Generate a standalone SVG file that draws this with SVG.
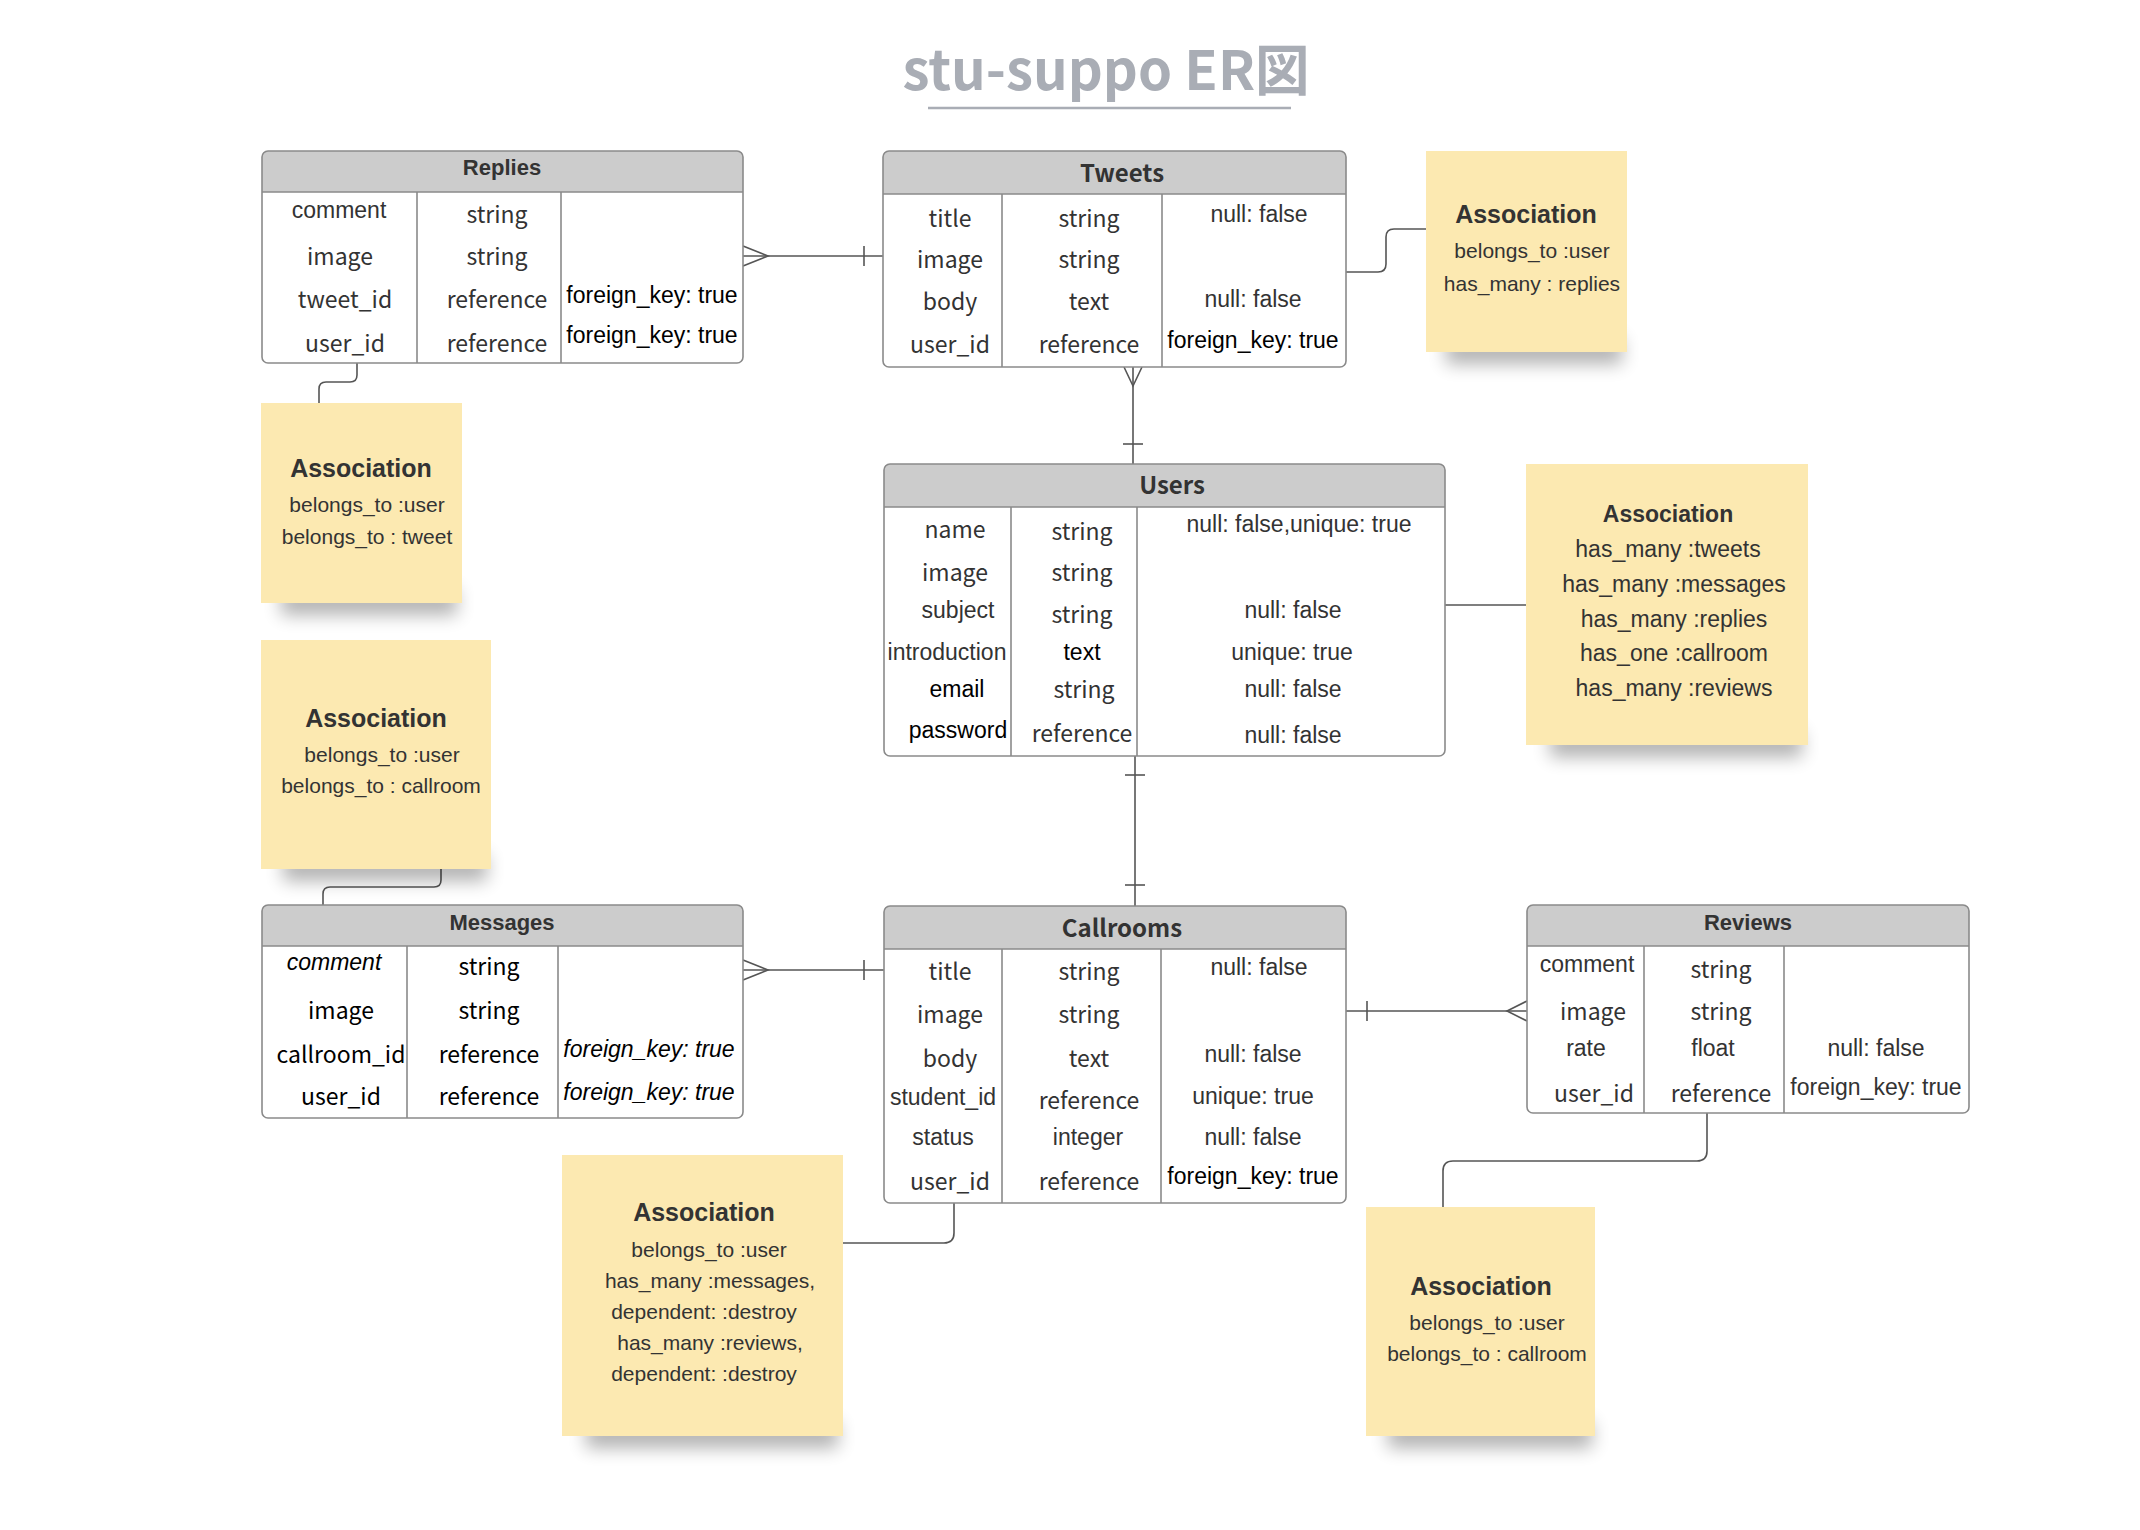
<svg xmlns="http://www.w3.org/2000/svg" width="2140" height="1530" viewBox="0 0 2140 1530">
<defs>
<filter id="blur" x="-30%" y="-150%" width="160%" height="400%"><feGaussianBlur stdDeviation="9"/></filter>
</defs>
<style>
.box{fill:#fff;stroke:none}
.brd{fill:none;stroke:#8a8a8a;stroke-width:1.6}
.hdr{fill:#cccccc}
.div{stroke:#8a8a8a;stroke-width:1.6;fill:none}
text{text-anchor:middle}
.s{font-family:"Noto Sans CJK JP","Noto Sans",sans-serif;font-size:23px;fill:#333}
.a{font-family:"Liberation Sans",Arial,sans-serif;font-size:23px;fill:#333}
.k{fill:#000}
.i{font-style:italic}
.hs{font-family:"Noto Sans CJK JP","Noto Sans",sans-serif;font-size:24px;font-weight:bold;fill:#333}
.ha{font-family:"Liberation Sans",Arial,sans-serif;font-size:22px;font-weight:bold;fill:#333}
.note{fill:#fce9b1}
.shd{fill:#000;opacity:.3;filter:url(#blur)}
.nt{font-family:"Liberation Sans",Arial,sans-serif;font-weight:bold;font-size:25px;fill:#333}
.nb{font-family:"Liberation Sans",Arial,sans-serif;font-size:21px;fill:#333}
.conn path{fill:none;stroke:#555;stroke-width:1.6}
</style>

<g id="title">
<text x="1106" y="90" style="font-family:'Noto Sans CJK JP','Noto Sans',sans-serif;font-size:54.5px;font-weight:bold;fill:#a9adb5">stu-suppo ER図</text>
<line x1="928" y1="108" x2="1291" y2="108" stroke="#a9adb5" stroke-width="2.5"/>
</g>

<g id="connectors" class="conn">
<path d="M743,256 H883"/>
<path d="M743,246 L768,256 L743,266"/>
<path d="M864,246 V266"/>
<path d="M1346,272 H1378 Q1386,272 1386,264 V237 Q1386,229 1394,229 H1426"/>
<path d="M357,363 V375 Q357,382 350,382 H326 Q319,382 319,389 V403"/>
<path d="M1133,367 V464"/>
<path d="M1124,367 L1133,386 L1142,367"/>
<path d="M1123,444 H1143"/>
<path d="M1445,605 H1526"/>
<path d="M1135,756 V906"/>
<path d="M1125,775 H1145"/>
<path d="M1125,885 H1145"/>
<path d="M441,869 V880 Q441,887 434,887 H330 Q323,887 323,894 V905"/>
<path d="M743,970 H884"/>
<path d="M743,960 L768,970 L743,980"/>
<path d="M864,960 V980"/>
<path d="M1346,1011 H1527"/>
<path d="M1367,1001 V1021"/>
<path d="M1527,1001 L1507,1011 L1527,1021"/>
<path d="M954,1203 V1233 Q954,1243 944,1243 H843"/>
<path d="M1707,1113 V1151 Q1707,1161 1697,1161 H1453 Q1443,1161 1443,1171 V1207"/>
</g>

<g id="replies">
<rect class="box" x="262" y="151" width="481" height="212" rx="6"/>
<path class="hdr" d="M262,192 V157 Q262,151 268,151 H737 Q743,151 743,157 V192 Z"/>
<path class="div" d="M262,192 H743 M417,192 V363 M561,192 V363"/>
<rect class="brd" x="262" y="151" width="481" height="212" rx="6"/>
<text class="ha" x="502" y="175">Replies</text>
<text class="a" x="339" y="218">comment</text>
<text class="s" x="340" y="265">image</text>
<text class="s" x="345" y="308">tweet_id</text>
<text class="s" x="345" y="352">user_id</text>
<text class="s" x="497" y="223">string</text>
<text class="s" x="497" y="265">string</text>
<text class="s" x="497" y="308">reference</text>
<text class="s" x="497" y="352">reference</text>
<text class="a k" x="652" y="303">foreign_key: true</text>
<text class="a k" x="652" y="343">foreign_key: true</text>
</g>

<g id="tweets">
<rect class="box" x="883" y="151" width="463" height="216" rx="6"/>
<path class="hdr" d="M883,194 V157 Q883,151 889,151 H1340 Q1346,151 1346,157 V194 Z"/>
<path class="div" d="M883,194 H1346 M1002,194 V367 M1162,194 V367"/>
<rect class="brd" x="883" y="151" width="463" height="216" rx="6"/>
<text class="hs" x="1122" y="182">Tweets</text>
<text class="s" x="950" y="227">title</text>
<text class="s" x="950" y="268">image</text>
<text class="s" x="950" y="310">body</text>
<text class="s" x="950" y="353">user_id</text>
<text class="s" x="1089" y="227">string</text>
<text class="s" x="1089" y="268">string</text>
<text class="s" x="1089" y="310">text</text>
<text class="s" x="1089" y="353">reference</text>
<text class="a" x="1259" y="222">null: false</text>
<text class="a" x="1253" y="307">null: false</text>
<text class="a k" x="1253" y="348">foreign_key: true</text>
</g>

<g id="users">
<rect class="box" x="884" y="464" width="561" height="292" rx="6"/>
<path class="hdr" d="M884,507 V470 Q884,464 890,464 H1439 Q1445,464 1445,470 V507 Z"/>
<path class="div" d="M884,507 H1445 M1011,507 V756 M1137,507 V756"/>
<rect class="brd" x="884" y="464" width="561" height="292" rx="6"/>
<text class="hs" x="1172" y="494">Users</text>
<text class="s" x="955" y="538">name</text>
<text class="s" x="955" y="581">image</text>
<text class="a" x="958" y="618">subject</text>
<text class="a" x="947" y="660">introduction</text>
<text class="a k" x="957" y="697">email</text>
<text class="a k" x="958" y="738">password</text>
<text class="s" x="1082" y="540">string</text>
<text class="s" x="1082" y="581">string</text>
<text class="s" x="1082" y="623">string</text>
<text class="a k" x="1082" y="660">text</text>
<text class="s" x="1084" y="698">string</text>
<text class="s" x="1082" y="742">reference</text>
<text class="a" x="1299" y="532">null: false,unique: true</text>
<text class="a" x="1293" y="618">null: false</text>
<text class="a" x="1292" y="660">unique: true</text>
<text class="a" x="1293" y="697">null: false</text>
<text class="a" x="1293" y="743">null: false</text>
</g>

<g id="messages">
<rect class="box" x="262" y="905" width="481" height="213" rx="6"/>
<path class="hdr" d="M262,946 V911 Q262,905 268,905 H737 Q743,905 743,911 V946 Z"/>
<path class="div" d="M262,946 H743 M407,946 V1118 M558,946 V1118"/>
<rect class="brd" x="262" y="905" width="481" height="213" rx="6"/>
<text class="ha k" x="502" y="930">Messages</text>
<text class="a i k" x="334" y="970">comment</text>
<text class="s k" x="341" y="1019">image</text>
<text class="s k" x="341" y="1063">callroom_id</text>
<text class="s k" x="341" y="1105">user_id</text>
<text class="s k" x="489" y="975">string</text>
<text class="s k" x="489" y="1019">string</text>
<text class="s k" x="489" y="1063">reference</text>
<text class="s k" x="489" y="1105">reference</text>
<text class="a i k" x="649" y="1057">foreign_key: true</text>
<text class="a i k" x="649" y="1100">foreign_key: true</text>
</g>

<g id="callrooms">
<rect class="box" x="884" y="906" width="462" height="297" rx="6"/>
<path class="hdr" d="M884,949 V912 Q884,906 890,906 H1340 Q1346,906 1346,912 V949 Z"/>
<path class="div" d="M884,949 H1346 M1002,949 V1203 M1161,949 V1203"/>
<rect class="brd" x="884" y="906" width="462" height="297" rx="6"/>
<text class="hs" x="1122" y="937">Callrooms</text>
<text class="s" x="950" y="980">title</text>
<text class="s" x="950" y="1023">image</text>
<text class="s" x="950" y="1067">body</text>
<text class="a" x="943" y="1105">student_id</text>
<text class="a" x="943" y="1145">status</text>
<text class="s" x="950" y="1190">user_id</text>
<text class="s" x="1089" y="980">string</text>
<text class="s" x="1089" y="1023">string</text>
<text class="s" x="1089" y="1067">text</text>
<text class="s" x="1089" y="1109">reference</text>
<text class="a" x="1088" y="1145">integer</text>
<text class="s" x="1089" y="1190">reference</text>
<text class="a" x="1259" y="975">null: false</text>
<text class="a" x="1253" y="1062">null: false</text>
<text class="a" x="1253" y="1104">unique: true</text>
<text class="a" x="1253" y="1145">null: false</text>
<text class="a k" x="1253" y="1184">foreign_key: true</text>
</g>

<g id="reviews">
<rect class="box" x="1527" y="905" width="442" height="208" rx="6"/>
<path class="hdr" d="M1527,946 V911 Q1527,905 1533,905 H1963 Q1969,905 1969,911 V946 Z"/>
<path class="div" d="M1527,946 H1969 M1644,946 V1113 M1784,946 V1113"/>
<rect class="brd" x="1527" y="905" width="442" height="208" rx="6"/>
<text class="ha" x="1748" y="930">Reviews</text>
<text class="a" x="1587" y="972">comment</text>
<text class="s" x="1593" y="1020">image</text>
<text class="a" x="1586" y="1056">rate</text>
<text class="s" x="1594" y="1102">user_id</text>
<text class="s" x="1721" y="978">string</text>
<text class="s" x="1721" y="1020">string</text>
<text class="a" x="1713" y="1056">float</text>
<text class="s" x="1721" y="1102">reference</text>
<text class="a" x="1876" y="1056">null: false</text>
<text class="a" x="1876" y="1095">foreign_key: true</text>
</g>

<g id="note-tweets">
<rect class="shd" x="1446" y="338" width="176" height="26"/>
<rect class="note" x="1426" y="151" width="201" height="201"/>
<text class="nt" x="1526" y="223">Association</text>
<text class="nb" x="1532" y="258">belongs_to :user</text>
<text class="nb" x="1532" y="291">has_many : replies</text>
</g>

<g id="note-replies">
<rect class="shd" x="281" y="589" width="176" height="26"/>
<rect class="note" x="261" y="403" width="201" height="200"/>
<text class="nt" x="361" y="477">Association</text>
<text class="nb" x="367" y="512">belongs_to :user</text>
<text class="nb" x="367" y="544">belongs_to : tweet</text>
</g>

<g id="note-users">
<rect class="shd" x="1550" y="731" width="252" height="26"/>
<rect class="note" x="1526" y="464" width="282" height="281"/>
<text class="nt" x="1668" y="522" style="font-size:23px">Association</text>
<text class="nb" x="1668" y="557" style="font-size:23px">has_many :tweets</text>
<text class="nb" x="1674" y="592" style="font-size:23px">has_many :messages</text>
<text class="nb" x="1674" y="627" style="font-size:23px">has_many :replies</text>
<text class="nb" x="1674" y="661" style="font-size:23px">has_one :callroom</text>
<text class="nb" x="1674" y="696" style="font-size:23px">has_many :reviews</text>
</g>

<g id="note-messages">
<rect class="shd" x="283" y="855" width="204" height="26"/>
<rect class="note" x="261" y="640" width="230" height="229"/>
<text class="nt" x="376" y="727">Association</text>
<text class="nb" x="382" y="762">belongs_to :user</text>
<text class="nb" x="381" y="793">belongs_to : callroom</text>
</g>

<g id="note-callrooms">
<rect class="shd" x="586" y="1422" width="252" height="26"/>
<rect class="note" x="562" y="1155" width="281" height="281"/>
<text class="nt" x="704" y="1221">Association</text>
<text class="nb" x="709" y="1257">belongs_to :user</text>
<text class="nb" x="710" y="1288">has_many :messages,</text>
<text class="nb" x="704" y="1319">dependent: :destroy</text>
<text class="nb" x="710" y="1350">has_many :reviews,</text>
<text class="nb" x="704" y="1381">dependent: :destroy</text>
</g>

<g id="note-reviews">
<rect class="shd" x="1388" y="1422" width="204" height="26"/>
<rect class="note" x="1366" y="1207" width="229" height="229"/>
<text class="nt" x="1481" y="1295">Association</text>
<text class="nb" x="1487" y="1330">belongs_to :user</text>
<text class="nb" x="1487" y="1361">belongs_to : callroom</text>
</g>
</svg>
